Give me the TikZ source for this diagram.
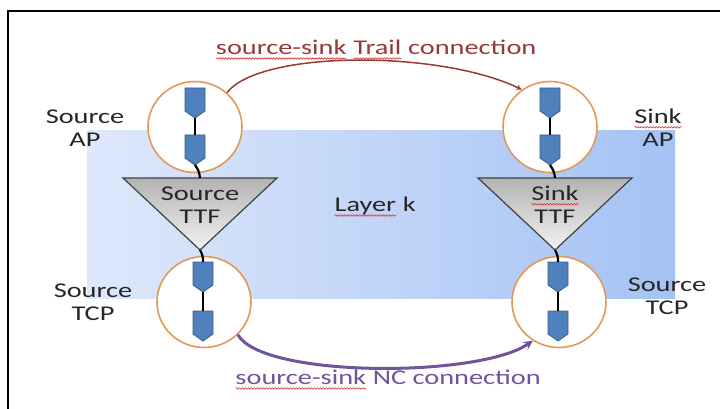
\documentclass[tikz,border=0pt]{standalone}
\usepackage{fontspec}
\setmainfont{Carlito}[FakeStretch=1.35]
\usetikzlibrary{shapes.geometric,decorations.pathmorphing}

\definecolor{trailred}{RGB}{150,58,56}
\definecolor{ncpurple}{RGB}{112,84,156}
\definecolor{ringorange}{RGB}{228,152,86}
\definecolor{pentblue}{RGB}{79,129,189}
\definecolor{pentedge}{RGB}{56,93,138}
\definecolor{spellred}{RGB}{220,50,50}

% wavy spell-check underline
\newcommand{\spell}[1]{\tikz[baseline=(spellw.base)]{%
    \node[inner sep=0pt, outer sep=0pt] (spellw) {#1};%
    \draw[spellred, line width=0.6pt, decorate, decoration={snake, amplitude=0.8pt, segment length=3pt}]
        ([yshift=-3.5pt]spellw.base west) -- ([yshift=-3.5pt]spellw.base east);}}

\begin{document}
\begin{tikzpicture}[x=1pt,y=-1pt]

    % Define some common styles
    \tikzset{
        label/.style={font=\fontsize{21}{23}\selectfont, text=black!85, align=center, inner sep=0pt},
        endring/.style={ellipse, draw=ringorange, line width=1.6pt, fill=white,
                        minimum width=94pt, minimum height=91pt, inner sep=0pt},
        link/.style={line width=2.2pt, black},
        ttf/.style={draw=black!75, line width=1.2pt, top color=black!30, bottom color=black!5},
        trail/.style={draw=trailred, line width=1.5pt, ->, >=stealth},
        nc/.style={draw=ncpurple, line width=3pt, ->, >=stealth},
        endpt/.pic={
            \draw[fill=pentblue, draw=pentedge, line width=0.8pt]
                (-10,0) -- (10,0) -- (10,23) -- (0,30) -- (-10,23) -- cycle;
            \coordinate (-top) at (0,0);
            \coordinate (-tip) at (0,30);
        }
    }

    \useasboundingbox (0,0) rectangle (720,409);

    % Outer frame (only left and top sides are in view)
    \draw[line width=2pt] (8,409) -- (8,11) -- (720,11);

    % Layer k band
    \shade[left color={rgb,255:red,222;green,232;blue,251}, right color={rgb,255:red,164;green,194;blue,244}]
        (87,131) rectangle (675,298);
    \node[label] (layer) at (375,207) {\spell{Layer} k};

    % Termination functions (triangles)
    \coordinate (sttfL) at (123,178);
    \coordinate (sttfR) at (277,178);
    \coordinate (sttfTip) at (200,250);
    \coordinate (sttfTop) at (200,178);
    \draw[ttf] (sttfL) -- (sttfR) -- (sttfTip) -- cycle;
    \node[label] (sttf) at (200,205) {Source\\TTF};

    \coordinate (kttfL) at (478,178);
    \coordinate (kttfR) at (632,178);
    \coordinate (kttfTip) at (555,250);
    \coordinate (kttfTop) at (555,178);
    \draw[ttf] (kttfL) -- (kttfR) -- (kttfTip) -- cycle;
    \node[label] (kttf) at (555,205) {\spell{Sink}\\TTF};

    % Access and connection points
    \node[endring] (sap) at (195,127) {};
    \node[endring] (kap) at (550,127) {};
    \node[endring] (stcp) at (204,302) {};
    \node[endring] (ktcp) at (559,302) {};

    \pic (sap1) at (195,88) {endpt};
    \pic (sap2) at (195,135) {endpt};
    \pic (kap1) at (550,88) {endpt};
    \pic (kap2) at (550,135) {endpt};
    \pic (stcp1) at (203,262) {endpt};
    \pic (stcp2) at (203,311) {endpt};
    \pic (ktcp1) at (558,262) {endpt};
    \pic (ktcp2) at (558,311) {endpt};

    % Links inside and between the points
    \draw[link] (sap1-tip) -- (sap2-top);
    \draw[link] (kap1-tip) -- (kap2-top);
    \draw[link] (stcp1-tip) -- (stcp2-top);
    \draw[link] (ktcp1-tip) -- (ktcp2-top);
    \draw[link] (sap2-tip) to[bend left=15] (sttfTop);
    \draw[link] (kap2-tip) to[bend left=15] (kttfTop);
    \draw[link] (sttfTip) to[bend left=15] (stcp1-top);
    \draw[link] (kttfTip) to[bend left=15] (ktcp1-top);

    % Side labels
    \node[label] (sapl) at (85,128) {Source\\AP};
    \node[label] (kapl) at (658,128) {\spell{Sink}\\AP};
    \node[label] (stcpl) at (93,302) {Source\\TCP};
    \node[label] (ktcpl) at (667,296) {Source\\TCP};

    % Connections
    \draw[trail] (sap.47) .. controls (260,50) and (440,50) .. (kap.127);
    \node[label, text=trailred] (trailtxt) at (376,50) {\spell{source-sink} \spell{Trail} connection};

    \draw[nc] (stcp.-44) .. controls (262,378) and (478,378) .. (ktcp.-124);
    \node[label, text=ncpurple] (nctxt) at (388,380) {\spell{source-sink} NC connection};

\end{tikzpicture}
\end{document}
